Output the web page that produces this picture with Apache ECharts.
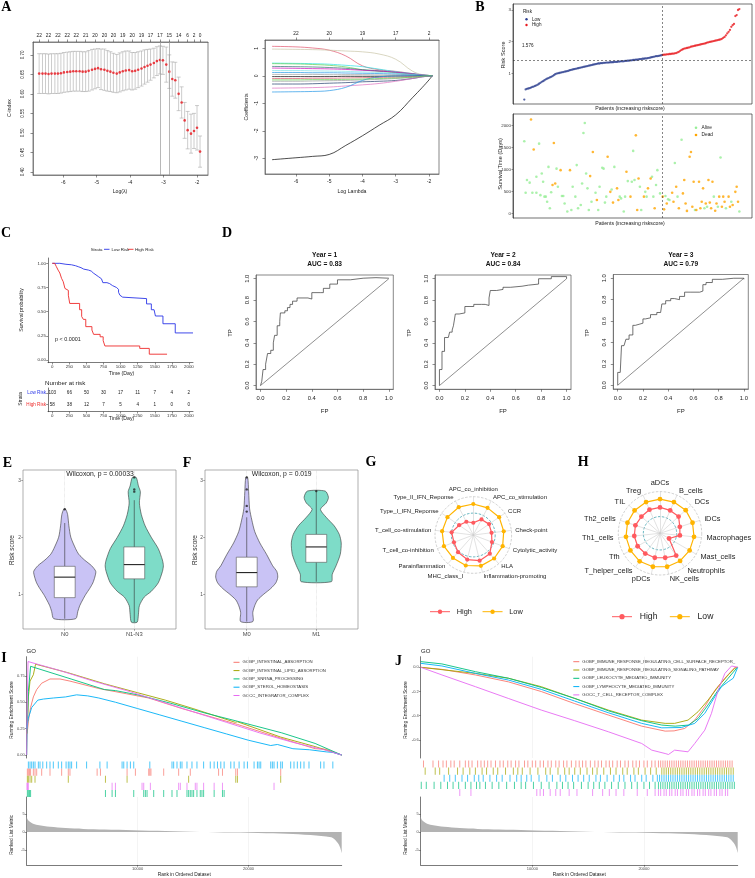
<!DOCTYPE html>
<html>
<head>
<meta charset="utf-8">
<script src="https://cdn.jsdelivr.net/npm/echarts@6/dist/echarts.min.js"></script>
<style>
  html, body { margin: 0; padding: 0; background: #fff; }
  #wrap { position: relative; width: 755px; height: 878px; overflow: hidden; background: #fff; }
  .layer { position: absolute; left: 0; top: 0; width: 755px; height: 878px; }
</style>
</head>
<body>
<div id="wrap"></div>
<script>
// ---------------- A: lasso cross validation (C-index) ----------------
const cvLogLambda = [-6.72,-6.62,-6.53,-6.44,-6.35,-6.25,-6.16,-6.07,-5.98,-5.88,-5.79,-5.70,-5.61,-5.51,-5.42,-5.33,
  -5.24,-5.14,-5.05,-4.96,-4.87,-4.77,-4.68,-4.59,-4.50,-4.40,-4.31,-4.22,-4.13,-4.03,-3.94,-3.85,
  -3.76,-3.66,-3.57,-3.48,-3.39,-3.29,-3.20,-3.11,-3.02,-2.92,-2.83,-2.74,-2.65,-2.55,-2.46,-2.37,-2.28,-2.18,-2.09,-2.00,-1.91];
const cvMean = [0.652,0.652,0.652,0.651,0.652,0.652,0.652,0.653,0.655,0.656,0.657,0.658,0.658,0.658,0.657,0.657,
  0.659,0.662,0.664,0.666,0.663,0.662,0.659,0.657,0.654,0.652,0.655,0.658,0.660,0.661,0.658,0.659,
  0.662,0.665,0.669,0.672,0.675,0.679,0.684,0.687,0.686,0.675,0.657,0.638,0.635,0.600,0.578,0.532,0.507,0.498,0.505,0.513,0.452];
const cvSd = [0.051,0.051,0.051,0.051,0.051,0.051,0.051,0.051,0.051,0.051,0.051,0.051,0.051,0.051,0.051,0.051,
  0.052,0.052,0.051,0.050,0.052,0.053,0.052,0.051,0.050,0.049,0.050,0.050,0.050,0.049,0.048,0.047,
  0.046,0.045,0.044,0.042,0.040,0.038,0.037,0.036,0.036,0.045,0.043,0.044,0.046,0.043,0.040,0.046,0.048,0.050,0.045,0.057,0.040];
const cvTopX = [-6.72,-6.44,-6.16,-5.88,-5.61,-5.33,-5.05,-4.77,-4.50,-4.22,-3.94,-3.66,-3.39,-3.11,-2.83,-2.55,-2.28,-2.09,-1.91];
const cvTopN = [22,22,22,22,22,21,20,20,20,19,20,19,17,17,15,14,6,2,0];
const cvLambdaMin = -3.11, cvLambda1se = -2.83;

// ---------------- A: coefficient paths ----------------
const coefX = [-6.72,-6,-5.5,-5,-4.5,-4,-3.5,-3,-2.5,-2.2,-2.0,-1.9];
const coefPaths = [
  [-3.05,-2.98,-2.93,-2.86,-2.53,-2.18,-1.80,-1.42,-0.80,-0.42,-0.15,0],
  [1.07,1.05,1.01,0.93,0.72,0.36,0.22,0.16,0.08,0.03,0.01,0],
  [0.97,0.96,0.95,0.93,0.90,0.87,0.79,0.60,0.17,0.04,0.01,0],
  [0.46,0.45,0.44,0.42,0.38,0.33,0.24,0.15,0.08,0.03,0.01,0],
  [0.44,0.43,0.41,0.38,0.32,0.22,0.16,0.11,0.06,0.02,0.01,0],
  [0.34,0.33,0.32,0.30,0.27,0.22,0.18,0.12,0.06,0.02,0.01,0],
  [0.28,0.27,0.26,0.25,0.23,0.20,0.17,0.13,0.07,0.03,0.01,0],
  [0.19,0.19,0.18,0.17,0.16,0.14,0.12,0.09,0.05,0.02,0.01,0],
  [0.12,0.12,0.11,0.11,0.10,0.09,0.08,0.06,0.03,0.01,0,0],
  [0.05,0.05,0.05,0.04,0.04,0.04,0.03,0.03,0.02,0.01,0,0],
  [-0.03,-0.03,-0.03,-0.03,-0.02,-0.02,-0.02,-0.01,-0.01,0,0,0],
  [-0.10,-0.10,-0.09,-0.09,-0.08,-0.07,-0.06,-0.05,-0.03,-0.01,0,0],
  [-0.20,-0.20,-0.19,-0.18,-0.17,-0.15,-0.13,-0.10,-0.06,-0.02,-0.01,0],
  [-0.30,-0.30,-0.29,-0.27,-0.25,-0.22,-0.20,-0.17,-0.10,-0.04,-0.01,0],
  [-0.45,-0.44,-0.43,-0.41,-0.37,-0.33,-0.28,-0.20,-0.10,-0.04,-0.01,0],
  [-0.59,-0.58,-0.57,-0.54,-0.42,-0.17,-0.04,-0.01,0,0,0,0],
  [-0.15,-0.15,-0.14,-0.14,-0.13,-0.12,-0.10,-0.08,-0.05,-0.02,0,0]
];
const coefColors = ['#000000','#DF536B','#C9C4A6','#28E2E5','#61D04F','#2F6F6F','#CD0BBC','#7FE3E6','#2297E6',
  '#9E9E9E','#000000','#DF536B','#9E9E9E','#1F3B6B','#E070C0','#2297E6','#61D04F'];
const coefTopX = [-6,-5,-4,-3,-2];
const coefTopN = [22,20,19,17,2];

// ---------------- B: risk score and survival status ----------------
const riskLow = [0.17,0.49,0.51,0.52,0.53,0.55,0.57,0.58,0.60,0.62,
  0.64,0.67,0.70,0.73,0.75,0.78,0.81,0.83,0.85,0.87,
  0.89,0.91,0.94,0.97,0.99,1.00,1.01,1.02,1.03,1.04,
  1.05,1.06,1.07,1.08,1.10,1.11,1.12,1.13,1.14,1.15,
  1.16,1.17,1.18,1.19,1.20,1.21,1.22,1.23,1.24,1.25,
  1.26,1.27,1.28,1.29,1.30,1.31,1.31,1.32,1.32,1.33,
  1.33,1.34,1.34,1.34,1.35,1.35,1.35,1.36,1.36,1.36,
  1.37,1.37,1.38,1.38,1.38,1.39,1.39,1.40,1.40,1.41,
  1.41,1.42,1.42,1.43,1.43,1.44,1.45,1.45,1.46,1.46,
  1.47,1.47,1.48,1.49,1.50,1.51,1.52,1.53,1.54,1.54,
  1.55,1.56,1.57];
const riskHigh = [1.58,1.59,1.59,1.60,1.60,1.61,1.61,1.62,1.62,1.63,
  1.64,1.66,1.68,1.71,1.74,1.76,1.78,1.79,1.80,1.81,
  1.82,1.84,1.85,1.86,1.87,1.88,1.89,1.90,1.91,1.92,
  1.93,1.94,1.95,1.97,1.98,1.99,2.00,2.01,2.02,2.03,
  2.04,2.05,2.06,2.07,2.09,2.12,2.15,2.20,2.26,2.31,
  2.37,2.47,2.52,2.56,2.81,2.84,3.00,3.03];
const riskScoreCut = 1.40;
const riskCutLabel = '1.576';
const survAlive = [[1,1645],[2,470],[3,760],[5,700],[7,470],[10,470],[10,835],[12,1590],[13,415],[14,910],[15,720],[16,380],
  [17,380],[18,265],[19,1060],[20,115],[21,480],[25,1020],[26,605],[29,395],[30,395],[31,225],[33,40],[36,75],[37,605],
  [39,380],[40,1100],[41,115],[43,190],[44,680],[45,1835],[46,2060],[47,910],[48,570],[49,75],[51,265],[54,470],[56,75],
  [57,605],[59,1040],[60,1020],[61,245],[62,380],[66,545],[68,1060],[72,380],[73,340],[75,40],[76,380],[78,735],[81,720],
  [82,1425],[83,760],[87,605],[88,75],[91,490],[92,380],[96,835],[97,380],[99,645],[100,985],[102,455],[106,395],[108,320],
  [109,305],[113,1150],[115,380],[118,1680],[128,75],[135,115],[137,150],[142,380],[145,150],[147,1275],[151,115],[155,265],[161,40]];
const survDead = [[6,2140],[8,1455],[22,645],[23,1605],[24,680],[28,985],[35,985],[50,850],[52,1400],[55,305],[63,1290],
  [65,490],[67,245],[70,570],[71,305],[77,950],[80,380],[84,1780],[85,75],[86,795],[90,380],[93,570],[95,795],[98,115],
  [104,380],[105,90],[107,225],[111,470],[112,265],[114,605],[116,115],[119,455],[120,760],[121,225],[122,55],[124,1290],
  [125,1400],[126,150],[127,720],[129,75],[131,720],[132,115],[133,265],[134,570],[136,225],[138,760],[139,245],[140,115],
  [141,720],[143,60],[144,225],[146,380],[148,150],[149,380],[150,265],[153,380],[154,150],[156,190],[158,490],[159,605],[160,265]];

// ---------------- C: Kaplan-Meier ----------------
const kmLowT = [0,110,200,280,340,380,420,460,530,570,600,640,680,720,740,800,840,880,940,970,990,1000,1030,1380,1450,1490,1510,1620,1800,2060];
const kmLowS = [1,0.99,0.985,0.975,0.965,0.955,0.94,0.93,0.92,0.90,0.88,0.86,0.84,0.82,0.80,0.79,0.77,0.75,0.73,0.70,0.67,0.65,0.635,0.58,0.52,0.50,0.455,0.375,0.28,0.28];
const kmHighT = [0,35,60,85,110,135,160,185,210,235,255,400,430,455,490,580,605,700,745,770,1280,1420,1680];
const kmHighS = [1,0.98,0.965,0.93,0.90,0.845,0.81,0.74,0.72,0.67,0.585,0.52,0.45,0.42,0.345,0.31,0.265,0.24,0.20,0.145,0.12,0.06,0.06];
const riskTimes = [0,250,500,750,1000,1250,1500,1750,2000];
const lowAtRisk = [103,66,50,30,17,11,7,4,2];
const highAtRisk = [58,38,12,7,5,4,1,0,0];
const kmPValue = 'p < 0.0001';

// ---------------- D: time-dependent ROC ----------------
const rocYears = ['Year = 1','Year = 2','Year = 3'];
const rocAUC = ['AUC = 0.83','AUC = 0.84','AUC = 0.79'];
const roc1 = [[0,0],[0.01,0.04],[0.02,0.15],[0.04,0.2],[0.055,0.3],[0.08,0.33],[0.1,0.4],[0.11,0.47],[0.13,0.56],[0.15,0.6],
  [0.155,0.68],[0.19,0.7],[0.21,0.73],[0.23,0.76],[0.25,0.79],[0.285,0.82],[0.37,0.81],[0.40,0.87],[0.47,0.87],[0.49,0.91],
  [0.54,0.95],[0.6,0.99],[0.7,1.005],[0.8,1.01],[0.9,1.005],[1,1]];
const roc2 = [[0,0],[0,0.15],[0.02,0.15],[0.02,0.32],[0.04,0.45],[0.07,0.46],[0.08,0.5],[0.1,0.52],[0.11,0.56],[0.125,0.67],
  [0.155,0.68],[0.2,0.74],[0.24,0.74],[0.27,0.76],[0.33,0.76],[0.36,0.75],[0.39,0.82],[0.4,0.89],[0.45,0.9],[0.5,0.92],
  [0.56,0.93],[0.65,0.94],[0.7,0.95],[0.78,1.0],[0.88,1.02],[1,1]];
const roc3 = [[0,0],[0,0.12],[0.02,0.12],[0.02,0.11],[0.03,0.37],[0.05,0.37],[0.065,0.43],[0.09,0.47],[0.12,0.56],[0.14,0.57],
  [0.17,0.58],[0.2,0.62],[0.22,0.63],[0.26,0.66],[0.31,0.68],[0.34,0.68],[0.35,0.76],[0.38,0.79],[0.42,0.81],[0.45,0.8],
  [0.49,0.83],[0.53,0.87],[0.58,0.87],[0.65,0.88],[0.675,0.94],[0.7,0.96],[0.75,0.99],[0.83,1.0],[0.92,1.0],[1,0.99]];
const rocDiag = [[0,0],[1,1]];
const rocTicks = [0,0.2,0.4,0.6,0.8,1.0];

// ---------------- E / F: violin plots ----------------
const groupsE = ['N0','N1-N3'];
const groupsF = ['M0','M1'];
const vioN0Y = [2.49,2.4,2.2,2.0,1.8,1.7,1.6,1.5,1.4,1.3,1.2,1.1,1.0,0.9,0.8,0.7,0.57];
const vioN0D = [0.03,0.09,0.13,0.19,0.34,0.44,0.62,0.84,0.97,0.94,0.88,0.78,0.66,0.56,0.47,0.41,0.34];
const vioN13Y = [3.05,2.9,2.8,2.6,2.4,2.2,2.0,1.8,1.6,1.5,1.4,1.2,1.05,0.95,0.8,0.65,0.51];
const vioN13D = [0.06,0.13,0.19,0.16,0.22,0.34,0.53,0.75,0.88,0.91,0.88,0.75,0.53,0.31,0.16,0.13,0.09];
const vioM0Y = [3.05,2.8,2.5,2.3,2.1,1.9,1.7,1.5,1.4,1.3,1.2,1.1,1.0,0.9,0.8,0.68,0.52];
const vioM0D = [0.03,0.06,0.09,0.16,0.25,0.41,0.62,0.81,0.94,0.97,0.91,0.75,0.53,0.34,0.25,0.19,0.19];
const vioM1Y = [2.81,2.7,2.6,2.49,2.35,2.2,2.05,1.9,1.7,1.5,1.35,1.22];
const vioM1D = [0.28,0.38,0.31,0.13,0.31,0.56,0.72,0.78,0.75,0.62,0.50,0.47];
const boxN0 = [0.57,0.94,1.30,1.49,2.25];
const boxN13 = [0.51,1.27,1.52,1.83,2.65];
const boxM0 = [0.52,1.13,1.38,1.65,2.35];
const boxM1 = [1.22,1.56,1.83,2.05,2.81];
const outE = [[1,2.49],[2,3.05],[2,2.84],[2,2.80]];
const outF = [[1,3.05],[1,2.84],[1,2.55],[1,2.45],[2,2.81]];
const wilcoxE = 'Wilcoxon, p = 0.00033';
const wilcoxF = 'Wilcoxon, p = 0.019';

// ---------------- G / H: radar ----------------
const gAxes = ['APC_co_inhibition','APC_co_stimulation','CCR','Check-point','Cytolytic_activity','HLA','Inflammation-promoting',
  'MHC_class_I','Parainflammation','T_cell_co-inhibition','T_cell_co-stimulation','Type_I_IFN_Reponse','Type_II_IFN_Reponse'];
const gHigh = [0.32,0.46,0.50,0.48,0.52,0.65,0.69,0.66,0.60,0.54,0.57,0.45,0.39];
const gLow = [0.81,0.80,0.82,0.80,0.82,0.82,0.83,0.82,0.80,0.82,0.82,0.82,0.82];
const hAxes = ['aDCs','B_cells','DCs','iDCs','Macrophages','Mast_cells','Neutrophils','NK_cells','pDCs','T_helper_cells',
  'Tfh','Th1_cells','Th2_cells','TIL','Treg'];
const hHigh = [0.62,0.60,0.60,0.50,0.48,0.25,0.66,0.60,0.60,0.60,0.62,0.62,0.62,0.60,0.62];
const hLow = [0.82,0.82,0.83,0.82,0.82,0.82,0.82,0.82,0.82,0.83,0.82,0.82,0.82,0.82,0.82];

// ---------------- I / J: GSEA ----------------
const RANK_N = 28400;
const rankTicks = [10000,20000];
const rankedX = [0,100,450,1000,2100,3500,5100,7000,9600,12500,15600,18500,21600,24000,26100,27000,27600,28050,28250,28400];
const rankedY = [4.2,3.4,2.5,1.9,1.4,1.05,0.84,0.65,0.47,0.25,0,-0.18,-0.37,-0.6,-1.0,-1.3,-1.7,-3.1,-4.3,-5.9];
const goColors = ['#F8766D','#A3A500','#00BF7D','#00B0F6','#E76BF3'];

const goINames = ['GOBP_INTESTINAL_ABSORPTION','GOBP_INTESTINAL_LIPID_ABSORPTION','GOBP_SNRNA_PROCESSING',
  'GOBP_STEROL_HOMEOSTASIS','GOCC_INTEGRATOR_COMPLEX'];
const esIAbs = [[0,0.2],[60,0.22],[150,0.32],[350,0.45],[600,0.55],[900,0.62],[1350,0.68],[2100,0.72],[3000,0.72],[3900,0.70],
  [4000,0.71],[6500,0.63],[9000,0.58],[11000,0.54],[14000,0.44],[17000,0.35],[19000,0.29],[22900,0.16],[23000,0.17],[26000,0.06],[27000,0.055],[28400,0]];
const esILipid = [[0,0.2],[60,0.22],[150,0.55],[300,0.7],[600,0.76],[800,0.86],[3700,0.78],[3750,0.795],[7000,0.675],[7100,0.685],
  [10000,0.59],[12500,0.52],[15000,0.44],[18800,0.31],[19000,0.315],[22900,0.17],[23000,0.18],[26000,0.08],[28400,0]];
const esISnrna = [[0,0],[60,0.3],[150,0.6],[350,0.84],[4000,0.72],[7000,0.62],[8000,0.61],[10000,0.57],[13000,0.49],[16000,0.40],
  [19000,0.32],[23000,0.21],[26000,0.11],[28400,0]];
const esISterol = [[0,0.25],[150,0.35],[450,0.45],[1000,0.52],[1500,0.53],[2400,0.54],[3500,0.55],[4500,0.57],[5500,0.56],[6500,0.54],
  [8000,0.50],[10000,0.44],[12000,0.38],[14000,0.32],[16000,0.26],[18000,0.20],[20000,0.14],[22000,0.09],[22600,0.1],[24000,0.06],
  [25500,0.05],[27000,0.03],[27600,0.025],[28400,0]];
const esIInteg = [[0,0],[50,0.5],[120,0.885],[3000,0.80],[6000,0.70],[9000,0.61],[12000,0.51],[15000,0.41],[18000,0.31],[21000,0.21],
  [24000,0.12],[27000,0.045],[28400,0]];
const hitsIAbs = [60,150,250,350,600,750,900,1350,2100,3150,3750,3900,6350,6650,9050,9800,11000,11100,11200,12350,13700,14750,
  17300,17650,18850,19000,22900];
const hitsILipid = [60,150,300,450,750,3750,7100,9050,14600,18850,19000,22900];
const hitsISnrna = [60,150,250,350,7100,7700,8000,9650,10550,10700,10850,11450,12350,13100,13550,14450,14600,14750,14900,15050,
  15350,15650,15800,15950,16900,17650,17800];
const hitsISterol = [150,300,450,600,750,1050,1200,1450,1800,2100,2400,2850,3150,3550,3750,3900,4050,4500,5400,6600,7250,8600,8750,
  9050,9350,9650,11100,13100,13250,13550,13850,14000,14450,14900,15350,15950,16550,16900,17200,17500,17800,18400,18700,19150,
  19600,19900,20500,20800,20950,21100,22000,22150,22300,22600,22900,23050,23800,24100,24400,24700,25000,25450,26500,26800,27600];
const hitsIInteg = [30,60,150,7700,8000,10400,10550,11150,13700,13850,14450,15200,15350,15950,16900,17650,22300];
const hitRowI = [1,2,4,0,3];

const goJNames = ['GOBP_IMMUNE_RESPONSE_REGULATING_CELL_SURFACE_RECEPTOR_SIGNALING_PATHWAY','GOBP_IMMUNE_RESPONSE_REGULATING_SIGNALING_PATHWAY',
  'GOBP_LEUKOCYTE_MEDIATED_IMMUNITY','GOBP_LYMPHOCYTE_MEDIATED_IMMUNITY','GOCC_T_CELL_RECEPTOR_COMPLEX'];
const esJSurf = [[0,0],[1900,-0.017],[4900,-0.063],[7850,-0.12],[10800,-0.2],[13800,-0.3],[16800,-0.394],[19800,-0.486],[21900,-0.527],
  [22700,-0.525],[23650,-0.505],[24550,-0.436],[25450,-0.325],[26350,-0.19],[27250,-0.09],[28150,0],[28400,0]];
const esJSig = [[0,0],[4900,-0.05],[7850,-0.09],[10800,-0.16],[13800,-0.257],[16800,-0.353],[19800,-0.436],[21900,-0.463],[22750,-0.463],
  [23950,-0.436],[24850,-0.367],[25750,-0.27],[26650,-0.16],[27550,-0.063],[28150,-0.008],[28400,0]];
const esJLeuk = [[0,0.047],[1900,0.028],[4900,-0.036],[7850,-0.09],[10800,-0.166],[13800,-0.257],[16800,-0.359],[19800,-0.441],[21600,-0.477],
  [22800,-0.486],[24000,-0.477],[24850,-0.422],[25750,-0.31],[26650,-0.188],[27550,-0.09],[28300,-0.008],[28400,0]];
const esJLymph = [[0,0.033],[1900,0.011],[4900,-0.05],[7850,-0.105],[10800,-0.182],[13800,-0.279],[16800,-0.375],[19800,-0.463],[21600,-0.5],
  [23350,-0.497],[24550,-0.463],[25450,-0.38],[26350,-0.243],[26950,-0.16],[27550,-0.119],[28000,-0.09],[28400,0]];
const esJTcr = [[0,0],[1900,-0.063],[4900,-0.16],[7850,-0.257],[10800,-0.353],[13800,-0.441],[16800,-0.532],[19800,-0.629],[20700,-0.684],
  [21900,-0.712],[22200,-0.72],[22750,-0.684],[23950,-0.698],[24550,-0.629],[25450,-0.519],[26050,-0.38],[26650,-0.188],[27250,-0.05],[27850,0.011],[28400,0]];
const hitsJSurf = [250,1100,1600,2000,2300,2700,3000,3500,4000,4300,4600,5100,5400,5700,6000,6300,6700,7100,7400,7800,8100,8500,8800,9300,
  9600,10000,10300,10700,11000,11400,11700,12100,12400,12800,13100,13500,13900,14200,14500,14800,15200,15600,15900,16200,16600,16900,
  17200,17600,17900,18300,18600,19000,19300,19600,20000,20300,20700,21000,21300,21500,21700,21900,22100,22300,22500,22700,22900,23100,
  23300,23500,23700,23900,24100,24300,24500,24700,24900,25100,25300,25500,25700,25900,26100,26300,26500,26700,26900,27100,27300,27500,27700,27900];
const hitsJSig = [400,1300,1700,2500,3300,3800,4400,4900,5500,5900,6500,6900,7600,8300,8700,9100,9800,10500,11200,11600,12300,12900,13300,
  13800,14300,14900,15400,15800,16400,17000,17500,18100,18500,19100,19500,20100,20600,21100,21600,21800,22000,22200,22400,22600,22800,
  23000,23200,23400,23600,23800,24000,24200,24400,24600,24800,25000,25200,25400,25600,25800,26000,26200,26400,26600,26800,27000,27200,27400,27600,27800,28000];
const hitsJLeuk = [50,500,1200,1800,2400,2900,3400,4000,4500,5000,5300,5800,6400,7000,7700,8400,9000,9400,10100,10800,11500,12200,12700,13200,
  13700,14400,15000,15500,16000,16500,17100,17700,18300,18900,19400,20000,20500,21000,21300,21500,21700,21900,22100,22300,22500,22700,22900,
  23100,23300,23500,23700,23900,24100,24300,24500,24700,24900,25100,25300,25500,25700,25900,26100,26300,26500,26700,26900,27100,27300,27500,27700,27900,28100];
const hitsJLymph = [2100,2600,3100,3700,4200,4800,5200,5600,6200,6800,7300,8000,8600,9000,9500,9900,10600,11300,11800,12500,13000,13600,14100,
  14600,15100,15700,16100,16700,17300,17800,18200,18800,19200,19800,20200,20800,21200,21400,21600,21800,22000,22200,22400,22600,22800,23000,
  23200,23400,23600,23800,24000,24200,24400,24600,24800,25000,25200,25400,25600,25800,26000,26200,26400,26600,26800,27000,27200,27400,27600,27800,28000];
const hitsJTcr = [3500,4500,10400,10700,11000,11600,12100,12500,13300,14000,15400,16300,16900,17500,18200,19400,20300,21000,21300,21500,21800,
  22000,22300,22500,22800,23000,23300,23500,23800,24000,24300,24500,24800,25000,25300,25500,25800,26000,26300,26500,26800,27000,27300,27500];
const hitRowJ = [0,1,3,2,4];

// ================= helpers =================
const FF = '"Liberation Sans", Arial, sans-serif';
const SERIF = '"Liberation Serif", "Times New Roman", serif';
const NONE = 'rgba(0,0,0,0)';
const plain = v => String(v);
const wrap = document.getElementById('wrap');

function layer(opt) {
  const el = document.createElement('div');
  el.className = 'layer';
  wrap.appendChild(el);
  const chart = echarts.init(el);
  opt.animation = false;
  opt.textStyle = { fontFamily: FF };
  chart.setOption(opt);
  return chart;
}

function label(x, y, text, size, o) {
  o = o || {};
  return {
    type: 'text', x: x, y: y, rotation: o.rot || 0, silent: true, z: 50,
    style: {
      text: text, fontSize: size, fontFamily: o.font || FF, fontWeight: o.bold ? 'bold' : 'normal',
      fill: o.color || '#222', align: o.align || 'center', verticalAlign: 'middle'
    }
  };
}

// value axis drawn like R base graphics: box + outward ticks at given values
function baseAxis(min, max, ticks, fmt, o) {
  o = o || {};
  return {
    type: 'value', min: min, max: max, gridIndex: o.grid || 0, position: o.pos,
    axisLine: { show: true, onZero: false, lineStyle: { color: o.lineColor || '#555', width: 0.6 } },
    axisTick: { show: true, customValues: ticks, length: o.tick || 2.5, lineStyle: { color: '#444', width: 0.6 } },
    axisLabel: {
      show: true, customValues: ticks, fontSize: o.size || 5.5, color: o.color || '#222', margin: o.margin || 3,
      rotate: o.rot || 0, formatter: fmt || plain
    },
    splitLine: { show: false }
  };
}

function errBar(params, api) {
  const x = api.value(0), m = api.value(1), s = api.value(2);
  const a = api.coord([x, m + s]), b = api.coord([x, m - s]);
  const w = 2;
  const st = { stroke: '#A9A9A9', lineWidth: 0.6 };
  return {
    type: 'group', children: [
      { type: 'line', shape: { x1: a[0], y1: a[1], x2: b[0], y2: b[1] }, style: st },
      { type: 'line', shape: { x1: a[0] - w, y1: a[1], x2: a[0] + w, y2: a[1] }, style: st },
      { type: 'line', shape: { x1: b[0] - w, y1: b[1], x2: b[0] + w, y2: b[1] }, style: st }
    ]
  };
}

// ================= A =================
layer({
  grid: [
    { left: 33, top: 42, width: 175, height: 133, show: true, borderColor: '#555', borderWidth: 0.7 },
    { left: 265, top: 40, width: 174, height: 134, show: true, borderColor: '#555', borderWidth: 0.7 }
  ],
  xAxis: [
    baseAxis(-6.904, -1.672, [-6, -5, -4, -3, -2], null, { grid: 0, margin: 5, size: 5 }),
    baseAxis(-6.904, -1.672, cvTopX, v => String(cvTopN[cvTopX.indexOf(v)]), { grid: 0, pos: 'top', margin: 4, size: 4.8 }),
    baseAxis(-6.93, -1.70, [-6, -5, -4, -3, -2], null, { grid: 1, margin: 5, size: 5 }),
    baseAxis(-6.93, -1.70, coefTopX, v => String(coefTopN[coefTopX.indexOf(v)]), { grid: 1, pos: 'top', margin: 4, size: 4.8 })
  ],
  yAxis: [
    baseAxis(0.392, 0.733, [0.40, 0.45, 0.50, 0.55, 0.60, 0.65, 0.70], v => v.toFixed(2), { grid: 0, rot: 90, margin: 8, size: 4.6 }),
    baseAxis(-3.57, 1.30, [-3, -2, -1, 0, 1], null, { grid: 1, rot: 90, margin: 6, size: 5 })
  ],
  series: [
    {
      type: 'custom', xAxisIndex: 0, yAxisIndex: 0, renderItem: errBar, silent: true,
      data: cvLogLambda.map((x, i) => [x, cvMean[i], cvSd[i]])
    },
    {
      type: 'scatter', xAxisIndex: 0, yAxisIndex: 0, symbolSize: 2.6, silent: true,
      itemStyle: { color: '#E8141C' },
      data: cvLogLambda.map((x, i) => [x, cvMean[i]]),
      markLine: {
        silent: true, symbol: ['none', 'none'], label: { show: false },
        lineStyle: { color: '#9A9A9A', type: 'solid', width: 0.7 },
        data: [{ xAxis: cvLambdaMin }, { xAxis: cvLambda1se }]
      }
    }
  ].concat(coefPaths.map((p, i) => ({
    type: 'line', xAxisIndex: 2, yAxisIndex: 1, symbol: 'none', silent: true, smooth: 0.4,
    lineStyle: { color: coefColors[i], width: 0.7 },
    data: coefX.map((x, j) => [x, p[j]])
  }))),
  graphic: [
    label(10, 108, 'C-index', 5.2, { rot: Math.PI / 2 }),
    label(120, 192, 'Log(λ)', 5.2),
    label(247, 107, 'Coefficients', 5.2, { rot: Math.PI / 2 }),
    label(352, 192, 'Log Lambda', 5.2)
  ]
});

// ================= B =================
function ggY(g, min, max, ticks) {
  return {
    type: 'value', gridIndex: g, min: min, max: max,
    axisLine: { show: true, onZero: false, lineStyle: { color: '#333', width: 0.7 } },
    axisTick: { show: true, customValues: ticks, length: 1.5, lineStyle: { color: '#333', width: 0.5 } },
    axisLabel: { customValues: ticks, fontSize: 4.4, color: '#333', margin: 2, formatter: plain },
    splitLine: { show: false }
  };
}
const riskCut = riskLow.length + 0.5;
layer({
  grid: [
    { left: 513, top: 4, width: 239, height: 100, show: true, borderColor: '#333', borderWidth: 0.7 },
    { left: 513, top: 114, width: 239, height: 104, show: true, borderColor: '#333', borderWidth: 0.7 }
  ],
  xAxis: [0, 1].map(g => ({ type: 'value', gridIndex: g, min: -7.4, max: 170.4, show: false })),
  yAxis: [ggY(0, 0.03, 3.19, [1, 2, 3]), ggY(1, -107, 2267, [0, 500, 1000, 1500, 2000])],
  series: [
    {
      type: 'scatter', xAxisIndex: 0, yAxisIndex: 0, symbolSize: 2.3, silent: true,
      itemStyle: { color: '#2B3D8F' },
      data: riskLow.map((v, i) => [i + 1, v]),
      markLine: {
        silent: true, symbol: ['none', 'none'], label: { show: false },
        lineStyle: { color: '#333', type: [2, 2], width: 0.6 },
        data: [{ xAxis: riskCut }, { yAxis: riskScoreCut }]
      }
    },
    {
      type: 'scatter', xAxisIndex: 0, yAxisIndex: 0, symbolSize: 2.3, silent: true,
      itemStyle: { color: '#E8191E' },
      data: riskHigh.map((v, i) => [riskLow.length + i + 1, v])
    },
    {
      type: 'scatter', xAxisIndex: 1, yAxisIndex: 1, symbolSize: 2.6, silent: true,
      itemStyle: { color: '#96EE96' },
      data: survAlive,
      markLine: {
        silent: true, symbol: ['none', 'none'], label: { show: false },
        lineStyle: { color: '#333', type: [2, 2], width: 0.6 },
        data: [{ xAxis: riskCut }]
      }
    },
    {
      type: 'scatter', xAxisIndex: 1, yAxisIndex: 1, symbolSize: 2.6, silent: true,
      itemStyle: { color: '#FFA500' },
      data: survDead
    }
  ],
  graphic: [
    label(503, 55, 'Risk Score', 5.6, { rot: Math.PI / 2 }),
    label(630, 108.5, 'Patients (increasing riskscore)', 5.2),
    label(500.5, 164, 'Survival Time (Days)', 5.6, { rot: Math.PI / 2 }),
    label(630, 223.5, 'Patients (increasing riskscore)', 5.2),
    label(522, 45.5, riskCutLabel, 4.6, { align: 'left' }),
    label(523, 11.7, 'Risk', 4.6, { align: 'left' }),
    { type: 'circle', shape: { cx: 526.5, cy: 19.3, r: 1.2 }, style: { fill: '#2B3D8F' } },
    label(532, 19.3, 'Low', 4.6, { align: 'left' }),
    { type: 'circle', shape: { cx: 526.5, cy: 25, r: 1.2 }, style: { fill: '#E8191E' } },
    label(532, 25, 'High', 4.6, { align: 'left' }),
    { type: 'circle', shape: { cx: 696, cy: 127.7, r: 1.3 }, style: { fill: '#96EE96' } },
    label(701.5, 127.7, 'Alive', 4.8, { align: 'left' }),
    { type: 'circle', shape: { cx: 696, cy: 135, r: 1.3 }, style: { fill: '#FFA500' } },
    label(701.5, 135, 'Dead', 4.8, { align: 'left' })
  ]
});

// ================= C =================
const kmTicks = [0, 250, 500, 750, 1000, 1250, 1500, 1750, 2000];
const KM_BLUE = '#2A36E8', KM_RED = '#EE2A2A';
function kmX(g) {
  return {
    type: 'value', gridIndex: g, min: -63, max: 2060,
    axisLine: { show: true, onZero: false, lineStyle: { color: '#222', width: 0.6 } },
    axisTick: { show: true, customValues: kmTicks, length: 1.8, lineStyle: { color: '#222', width: 0.5 } },
    axisLabel: { customValues: kmTicks, fontSize: 4.4, color: '#333', margin: 2, formatter: plain },
    splitLine: { show: false }
  };
}
layer({
  grid: [
    { left: 48, top: 258, width: 145, height: 104.7 },
    { left: 48, top: 388, width: 145, height: 23.7 }
  ],
  xAxis: [kmX(0), kmX(1)],
  yAxis: [
    {
      type: 'value', gridIndex: 0, min: -0.028, max: 1.055,
      axisLine: { show: true, onZero: false, lineStyle: { color: '#222', width: 0.6 } },
      axisTick: { show: true, customValues: [0, 0.25, 0.5, 0.75, 1], length: 1.8, lineStyle: { color: '#222', width: 0.5 } },
      axisLabel: { customValues: [0, 0.25, 0.5, 0.75, 1], fontSize: 4.4, color: '#333', margin: 2, formatter: v => v.toFixed(2) },
      splitLine: { show: false }
    },
    {
      type: 'value', gridIndex: 1, min: 0.35, max: 2.45,
      axisLine: { show: true, onZero: false, lineStyle: { color: '#222', width: 0.6 } },
      axisTick: { show: true, customValues: [1, 2], length: 1.8, lineStyle: { color: '#222', width: 0.5 } },
      axisLabel: {
        customValues: [1, 2], margin: 2,
        formatter: v => (v === 2 ? '{b|Low Risk}' : '{r|High Risk}'),
        rich: { b: { color: KM_BLUE, fontSize: 4.6 }, r: { color: KM_RED, fontSize: 4.6 } }
      },
      splitLine: { show: false }
    }
  ],
  series: [
    {
      type: 'line', xAxisIndex: 0, yAxisIndex: 0, step: 'end', symbol: 'none', silent: true,
      lineStyle: { color: KM_BLUE, width: 0.9 }, data: kmLowT.map((t, i) => [t, kmLowS[i]])
    },
    {
      type: 'line', xAxisIndex: 0, yAxisIndex: 0, step: 'end', symbol: 'none', silent: true,
      lineStyle: { color: KM_RED, width: 0.9 }, data: kmHighT.map((t, i) => [t, kmHighS[i]])
    },
    {
      type: 'scatter', xAxisIndex: 1, yAxisIndex: 1, symbolSize: 1, silent: true,
      itemStyle: { color: NONE },
      label: { show: true, position: 'inside', fontSize: 4.6, color: '#222', opacity: 1, formatter: p => String(p.value[2]) },
      data: riskTimes.map((t, i) => [t, 2, lowAtRisk[i]]).concat(riskTimes.map((t, i) => [t, 1, highAtRisk[i]]))
    }
  ],
  graphic: [
    label(21.5, 310, 'Survival probability', 5.2, { rot: Math.PI / 2 }),
    label(121.5, 373.3, 'Time (Day)', 5.2),
    label(55, 340, kmPValue, 5.4, { align: 'left' }),
    label(96.5, 249.3, 'Strata', 4.4),
    { type: 'line', shape: { x1: 104, y1: 249.3, x2: 109.5, y2: 249.3 }, style: { stroke: KM_BLUE, lineWidth: 0.9 } },
    label(111.5, 249.3, 'Low Risk', 4.4, { align: 'left' }),
    { type: 'line', shape: { x1: 128, y1: 249.3, x2: 133.5, y2: 249.3 }, style: { stroke: KM_RED, lineWidth: 0.9 } },
    label(135, 249.3, 'High Risk', 4.4, { align: 'left' }),
    label(45, 383.3, 'Number at risk', 6.2, { align: 'left' }),
    label(20.7, 399, 'Strata', 5, { rot: Math.PI / 2 }),
    label(121.5, 418.8, 'Time (Day)', 5.2)
  ]
});

// ================= D =================
const rocGrids = [
  { left: 256, top: 275, width: 137.3, height: 114.3, show: true, borderColor: '#555', borderWidth: 0.7 },
  { left: 435, top: 275, width: 136, height: 114.3, show: true, borderColor: '#555', borderWidth: 0.7 },
  { left: 613.3, top: 274.5, width: 135, height: 114.5, show: true, borderColor: '#555', borderWidth: 0.7 }
];
const rocCurves = [roc1, roc2, roc3];
const rocGraphic = [];
rocGrids.forEach((g, i) => {
  const cx = g.left + g.width / 2;
  rocGraphic.push(label(cx, 255, rocYears[i], 6.6, { bold: true, color: '#111' }));
  rocGraphic.push(label(cx, 264.3, rocAUC[i], 6.6, { bold: true, color: '#111' }));
  rocGraphic.push(label(g.left - 26, 333, 'TP', 6, { rot: Math.PI / 2 }));
  rocGraphic.push(label(cx, 411, 'FP', 6));
});
layer({
  grid: rocGrids,
  xAxis: rocGrids.map((g, i) => baseAxis(-0.035, 1.035, rocTicks, v => v.toFixed(1), { grid: i, size: 5.8, margin: 6 })),
  yAxis: rocGrids.map((g, i) => baseAxis(-0.035, 1.035, rocTicks, v => v.toFixed(1), { grid: i, size: 5.8, rot: 90, margin: 6 })),
  series: rocCurves.map((c, i) => ({
    type: 'line', xAxisIndex: i, yAxisIndex: i, step: 'end', symbol: 'none', silent: true,
    lineStyle: { color: '#333', width: 0.7 }, data: c
  })).concat(rocGrids.map((g, i) => ({
    type: 'line', xAxisIndex: i, yAxisIndex: i, symbol: 'none', silent: true,
    lineStyle: { color: '#444', width: 0.6 }, data: rocDiag
  }))),
  graphic: rocGraphic
});

// ================= E / F =================
const VIO_W = 0.46;   // half width of widest violin, in category units
const BOX_W = 0.15;
const VIO_FILL = ['#C9C3F5', '#7EDCC8'];
function violinRender(profiles) {
  return function (params, api) {
    const pr = profiles[params.dataIndex];
    const gx = api.value(0);
    const right = pr[0].map((y, k) => api.coord([gx + pr[1][k] * VIO_W, y]));
    const left = pr[0].map((y, k) => api.coord([gx - pr[1][k] * VIO_W, y])).reverse();
    return {
      type: 'polygon', shape: { points: right.concat(left), smooth: 0.25 },
      style: { fill: VIO_FILL[params.dataIndex], stroke: '#333', lineWidth: 0.6 }
    };
  };
}
function boxRender(params, api) {
  const gx = api.value(0);
  const p = k => api.coord([gx, api.value(k)]);
  const lo = p(1), q1 = p(2), md = p(3), q3 = p(4), hi = p(5);
  const l = api.coord([gx - BOX_W, 0])[0], r = api.coord([gx + BOX_W, 0])[0];
  const st = { stroke: '#333', lineWidth: 0.6 };
  return {
    type: 'group', children: [
      { type: 'line', shape: { x1: lo[0], y1: lo[1], x2: q1[0], y2: q1[1] }, style: st },
      { type: 'line', shape: { x1: q3[0], y1: q3[1], x2: hi[0], y2: hi[1] }, style: st },
      { type: 'rect', shape: { x: l, y: q3[1], width: r - l, height: q1[1] - q3[1] }, style: { fill: '#fff', stroke: '#555', lineWidth: 0.6 } },
      { type: 'line', shape: { x1: l, y1: md[1], x2: r, y2: md[1] }, style: { stroke: '#222', lineWidth: 1.1 } }
    ]
  };
}
const vioGrids = [
  { left: 23, top: 470, width: 153, height: 159, show: true, borderColor: '#8C8C8C', borderWidth: 0.7 },
  { left: 205, top: 470, width: 153, height: 159, show: true, borderColor: '#8C8C8C', borderWidth: 0.7 }
];
const vioGroups = [groupsE, groupsF];
layer({
  grid: vioGrids,
  xAxis: [0, 1].map(i => ({
    type: 'value', gridIndex: i, min: 0.4, max: 2.6,
    axisLine: { show: false },
    axisTick: { show: true, customValues: [1, 2], length: 1.8, lineStyle: { color: '#555', width: 0.5 } },
    axisLabel: { customValues: [1, 2], fontSize: 5.8, color: '#4D4D4D', margin: 2, formatter: v => vioGroups[i][v - 1] },
    splitLine: { show: false }
  })),
  yAxis: [0, 1].map(i => ({
    type: 'value', gridIndex: i, min: 0.39, max: 3.18,
    axisLine: { show: false },
    axisTick: { show: true, customValues: [1, 2, 3], length: 1.8, lineStyle: { color: '#555', width: 0.5 } },
    axisLabel: { customValues: [1, 2, 3], fontSize: 4.8, color: '#4D4D4D', margin: 2 },
    splitLine: { show: false }
  })),
  series: [
    {
      type: 'scatter', xAxisIndex: 0, yAxisIndex: 0, data: outE, symbolSize: 2.4, silent: true, z: 5,
      itemStyle: { color: '#222' },
      markLine: { silent: true, z: 1, symbol: ['none', 'none'], label: { show: false },
        lineStyle: { color: '#D0D0D0', type: 'dotted', width: 0.6 }, data: [{ xAxis: 1 }, { xAxis: 2 }] }
    },
    {
      type: 'scatter', xAxisIndex: 1, yAxisIndex: 1, data: outF, symbolSize: 2.4, silent: true, z: 5,
      itemStyle: { color: '#222' },
      markLine: { silent: true, z: 1, symbol: ['none', 'none'], label: { show: false },
        lineStyle: { color: '#D0D0D0', type: 'dotted', width: 0.6 }, data: [{ xAxis: 1 }, { xAxis: 2 }] }
    },
    {
      type: 'custom', xAxisIndex: 0, yAxisIndex: 0, silent: true, z: 3,
      renderItem: violinRender([[vioN0Y, vioN0D], [vioN13Y, vioN13D]]),
      data: [[1, boxN0[2]], [2, boxN13[2]]]
    },
    {
      type: 'custom', xAxisIndex: 1, yAxisIndex: 1, silent: true, z: 3,
      renderItem: violinRender([[vioM0Y, vioM0D], [vioM1Y, vioM1D]]),
      data: [[1, boxM0[2]], [2, boxM1[2]]]
    },
    {
      type: 'custom', xAxisIndex: 0, yAxisIndex: 0, silent: true, z: 4, renderItem: boxRender,
      encode: { x: 0, y: [1, 2, 3, 4, 5] },
      data: [[1].concat(boxN0), [2].concat(boxN13)]
    },
    {
      type: 'custom', xAxisIndex: 1, yAxisIndex: 1, silent: true, z: 4, renderItem: boxRender,
      encode: { x: 0, y: [1, 2, 3, 4, 5] },
      data: [[1].concat(boxM0), [2].concat(boxM1)]
    }
  ],
  graphic: [
    label(100, 474.5, wilcoxE, 6.8),
    label(281.7, 474.5, wilcoxF, 6.8),
    label(12.7, 550, 'Risk score', 6.4, { rot: Math.PI / 2 }),
    label(195, 550, 'Risk score', 6.4, { rot: Math.PI / 2 })
  ]
});

// ================= G / H =================
// echarts places radar indicators counter-clockwise; ggradar goes clockwise
function cw(a) { return [a[0]].concat(a.slice(1).reverse()); }
const RADAR_RED = '#FF5A5F', RADAR_ORANGE = '#FFB400', RADAR_MID = '#2A98A6';
function radarBox(center, radius, axes, fontSize, gap, split, ringColors) {
  return {
    center: center, radius: radius, startAngle: 90, shape: 'circle', splitNumber: split,
    indicator: cw(axes).map(n => ({ name: n, min: 0, max: 1 })),
    axisName: { color: '#222', fontSize: fontSize, fontFamily: FF }, nameGap: gap,
    splitLine: { lineStyle: { color: ringColors, type: [2.5, 1.5], width: 0.7 } },
    splitArea: { show: false },
    axisLine: { lineStyle: { color: '#CFCFCF', width: 0.6 } },
    axisTick: { show: false }, axisLabel: { show: false }
  };
}
function radarSeries(idx, high, low, size) {
  return {
    type: 'radar', radarIndex: idx, symbol: 'circle', symbolSize: size, silent: true,
    data: [
      { name: 'Low', value: cw(low), lineStyle: { color: RADAR_ORANGE, width: 1.2 }, itemStyle: { color: RADAR_ORANGE } },
      { name: 'High', value: cw(high), lineStyle: { color: RADAR_RED, width: 1.2 }, itemStyle: { color: RADAR_RED } }
    ]
  };
}
function radarLegend(y, x0, fs, len, r) {
  return [
    { type: 'line', shape: { x1: x0, y1: y, x2: x0 + len, y2: y }, style: { stroke: RADAR_RED, lineWidth: 1 } },
    { type: 'circle', shape: { cx: x0 + len / 2, cy: y, r: r }, style: { fill: RADAR_RED } },
    label(x0 + len + fs * 0.9, y, 'High', fs, { align: 'left' }),
    { type: 'line', shape: { x1: x0 + len + fs * 4.4, y1: y, x2: x0 + len * 2 + fs * 4.4, y2: y }, style: { stroke: RADAR_ORANGE, lineWidth: 1 } },
    { type: 'circle', shape: { cx: x0 + len * 1.5 + fs * 4.4, cy: y, r: r }, style: { fill: RADAR_ORANGE } },
    label(x0 + len * 2 + fs * 5.3, y, 'Low', fs, { align: 'left' })
  ];
}
layer({
  radar: [
    radarBox([473.3, 535], 38.3, gAxes, 6, 4, 7, [NONE, NONE, NONE, NONE, RADAR_MID, NONE, NONE, '#BDBDBD']),
    radarBox([660, 533.3], 41.7, hAxes, 7.4, 5, 5, [NONE, NONE, RADAR_MID, NONE, NONE, '#BDBDBD'])
  ],
  series: [radarSeries(0, gHigh, gLow, 4.2), radarSeries(1, hHigh, hLow, 4.8)],
  graphic: radarLegend(611.7, 430, 7.4, 20, 2.2).concat(radarLegend(616.7, 612, 8.6, 20, 2.6))
});

// ================= I / J =================
function hitItem(params, api) {
  const a = api.coord([api.value(0), api.value(1)]);
  const b = api.coord([api.value(0), api.value(1) + 1]);
  return {
    type: 'rect',
    shape: { x: a[0] - 0.5, y: Math.min(a[1], b[1]), width: 1, height: Math.abs(b[1] - a[1]) },
    style: api.style()
  };
}
function gseaLayer(c) {
  const grids = [
    { left: c.left, top: 656.7, width: c.width, height: 101.3 },
    { left: c.left, top: c.hitTop, width: c.width, height: 35.5 },
    { left: c.left, top: 797, width: c.width, height: 68 }
  ];
  const xAxis = [0, 1, 2].map(g => ({
    type: 'value', gridIndex: g, min: 0, max: RANK_N, interval: 5000,
    axisLine: { show: g === 2, onZero: false, lineStyle: { color: '#222', width: 0.6 } },
    axisTick: { show: g === 2, customValues: rankTicks, length: 1.8, lineStyle: { color: '#333', width: 0.5 } },
    axisLabel: { show: g === 2, customValues: rankTicks, fontSize: 4, color: '#4D4D4D', margin: 2, formatter: plain },
    splitLine: { show: g !== 1, lineStyle: { color: '#ECECEC', width: 0.6 } }
  }));
  const yAxis = [
    {
      type: 'value', gridIndex: 0, min: c.esMin, max: c.esMax,
      axisLine: { show: true, onZero: false, lineStyle: { color: '#222', width: 0.6 } },
      axisTick: { show: true, customValues: c.esTicks, length: 1.8, lineStyle: { color: '#333', width: 0.5 } },
      axisLabel: { customValues: c.esTicks, formatter: c.esFmt, fontSize: 4, color: '#4D4D4D', margin: 2 },
      splitLine: { show: false }
    },
    { type: 'value', gridIndex: 1, min: 0, max: 5, inverse: true, show: false },
    {
      type: 'value', gridIndex: 2, min: -9.2, max: 9.7,
      axisLine: { show: true, onZero: false, lineStyle: { color: '#222', width: 0.6 } },
      axisTick: { show: true, customValues: [-5, 0, 5], length: 1.8, lineStyle: { color: '#333', width: 0.5 } },
      axisLabel: { customValues: [-5, 0, 5], fontSize: 4, color: '#4D4D4D', margin: 2 },
      splitLine: { show: false }
    }
  ];
  const series = [{
    type: 'line', xAxisIndex: 2, yAxisIndex: 2, symbol: 'none', silent: true, smooth: 0.3,
    lineStyle: { width: 0 }, areaStyle: { color: '#B3B3B3', opacity: 1 },
    data: rankedX.map((x, i) => [x, rankedY[i]])
  }];
  c.curves.forEach((d, i) => series.push({
    type: 'line', xAxisIndex: 0, yAxisIndex: 0, symbol: 'none', silent: true, z: 3,
    lineStyle: { color: goColors[i], width: 0.9 }, data: d
  }));
  c.hits.forEach((h, i) => series.push({
    type: 'custom', xAxisIndex: 1, yAxisIndex: 1, silent: true, renderItem: hitItem,
    itemStyle: { color: goColors[i], opacity: 0.7 },
    data: h.map(r => [r, c.rows[i]])
  }));
  const graphic = [
    label(c.goX, 651, 'GO', 6, { align: 'left' }),
    label(c.left - 15, 710, 'Running Enrichment Score', 4.8, { rot: Math.PI / 2 }),
    label(c.left - 15, 835, 'Ranked List Metric', 4.8, { rot: Math.PI / 2 }),
    label(c.left + c.width / 2, 875, 'Rank in Ordered Dataset', 4.8)
  ];
  c.names.forEach((n, i) => {
    const y = c.legendY + i * 8.3;
    graphic.push({ type: 'line', shape: { x1: c.legendX, y1: y, x2: c.legendX + 6, y2: y }, style: { stroke: goColors[i], lineWidth: 1 } });
    graphic.push({
      type: 'text', x: c.legendX + 9, y: y, silent: true,
      style: { text: n, fontSize: 4.3, fontFamily: FF, fill: '#333', verticalAlign: 'middle', align: 'left',
        width: c.legendW, overflow: 'truncate', ellipsis: '' }
    });
  });
  layer({ grid: grids, xAxis: xAxis, yAxis: yAxis, series: series, graphic: graphic });
}
gseaLayer({
  left: 26.7, width: 315, hitTop: 761.5, goX: 26.5,
  esMin: -0.028, esMax: 0.931, esTicks: [0, 0.25, 0.5, 0.75], esFmt: v => v.toFixed(2),
  names: goINames, curves: [esIAbs, esILipid, esISnrna, esISterol, esIInteg],
  hits: [hitsIAbs, hitsILipid, hitsISnrna, hitsISterol, hitsIInteg], rows: hitRowI,
  legendX: 233.5, legendY: 662.3, legendW: 105
});
gseaLayer({
  left: 420.7, width: 317, hitTop: 760.5, goX: 421,
  esMin: -0.749, esMax: 0.0876, esTicks: [-0.6, -0.4, -0.2, 0], esFmt: v => v.toFixed(1),
  names: goJNames, curves: [esJSurf, esJSig, esJLeuk, esJLymph, esJTcr],
  hits: [hitsJSurf, hitsJSig, hitsJLeuk, hitsJLymph, hitsJTcr], rows: hitRowJ,
  legendX: 573.3, legendY: 661.7, legendW: 155
});

// ================= panel letters =================
const letters = [['A', 6.2, 7.5], ['B', 480, 7], ['C', 6, 233.5], ['D', 227, 233], ['E', 7.5, 463], ['F', 187, 463],
  ['G', 371, 462.5], ['H', 583.3, 462.5], ['I', 4, 658], ['J', 398.5, 661]];
layer({
  graphic: letters.map(l => label(l[1], l[2], l[0], 14, { bold: true, font: SERIF, color: '#000' }))
});
</script>
</body>
</html>
